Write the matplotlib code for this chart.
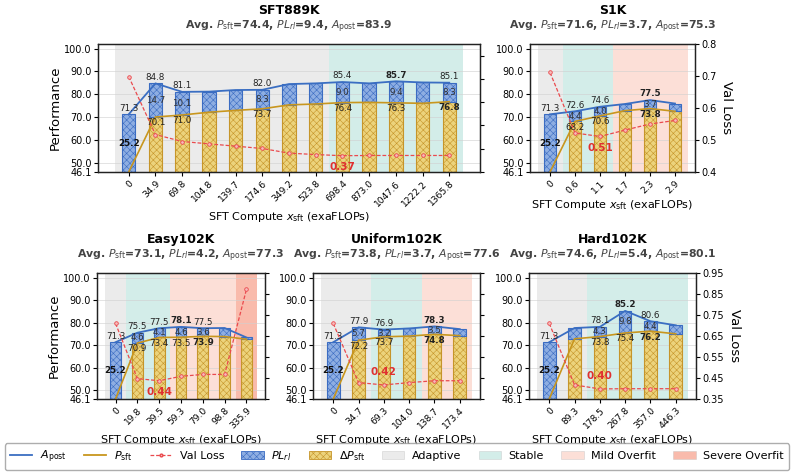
import numpy as np
import matplotlib
matplotlib.use('Agg')
import matplotlib.pyplot as plt
from matplotlib.patches import Patch
from matplotlib.lines import Line2D

plt.rcParams['font.family'] = ['DejaVu Sans']
plt.rcParams['hatch.linewidth'] = 0.4
plt.rcParams['mathtext.fontset'] = 'dejavusans'

BASE = 46.1  # base model score (bottom of the performance axis)

# ---- data ----
sft889k_x = ['0', '34.9', '69.8', '104.8', '139.7', '174.6', '349.2', '523.8',
             '698.4', '873.0', '1047.6', '1222.2', '1365.8']
sft889k_apost = [71.3, 84.8, 81.1, 81.2, 81.9, 82.0, 84.5, 84.8, 85.4, 84.8, 85.7, 85.2, 85.1]
sft889k_psft = [BASE, 70.1, 71.0, 72.2, 73.0, 73.7, 75.4, 75.8, 76.4, 76.5, 76.3, 76.1, 76.8]
sft889k_loss = [0.710, 0.461, 0.431, 0.421, 0.411, 0.401, 0.381, 0.375, 0.370, 0.371, 0.371, 0.371, 0.371]
sft889k_phase = ['Adaptive'] * 8 + ['Stable'] * 5
sft889k_show = [0, 1, 2, 5, 8, 10, 12]

s1k_x = ['0', '0.6', '1.1', '1.7', '2.3', '2.9']
s1k_apost = [71.3, 72.6, 74.6, 75.8, 77.5, 76.0]
s1k_psft = [BASE, 68.2, 70.6, 72.9, 73.8, 72.6]
s1k_loss = [0.711, 0.522, 0.511, 0.531, 0.550, 0.561]
s1k_phase = ['Adaptive', 'Stable', 'Stable', 'Mild Overfit', 'Mild Overfit', 'Mild Overfit']
s1k_show = [0, 1, 2, 4]

easy_x = ['0', '19.8', '39.5', '59.3', '79.0', '98.8', '335.9']
easy_apost = [71.3, 75.5, 77.5, 78.1, 77.5, 77.6, 73.4]
easy_psft = [BASE, 70.9, 73.4, 73.5, 73.9, 73.8, 72.6]
easy_loss = [0.710, 0.447, 0.437, 0.458, 0.467, 0.467, 0.872]
easy_phase = ['Adaptive', 'Stable', 'Stable', 'Mild Overfit', 'Mild Overfit', 'Mild Overfit', 'Severe Overfit']
easy_show = [0, 1, 2, 3, 4]

uniform_x = ['0', '34.7', '69.3', '104.0', '138.7', '173.4']
uniform_apost = [71.3, 77.9, 76.9, 77.4, 78.3, 77.1]
uniform_psft = [BASE, 72.2, 73.7, 74.0, 74.8, 74.2]
uniform_loss = [0.710, 0.428, 0.417, 0.428, 0.437, 0.437]
uniform_phase = ['Adaptive', 'Adaptive', 'Stable', 'Stable', 'Mild Overfit', 'Mild Overfit']
uniform_show = [0, 1, 2, 4]

hard_x = ['0', '89.3', '178.5', '267.8', '357.0', '446.3']
hard_apost = [71.3, 77.6, 78.1, 85.2, 80.6, 78.8]
hard_psft = [BASE, 72.8, 73.8, 75.4, 76.2, 75.0]
hard_loss = [0.710, 0.417, 0.398, 0.399, 0.399, 0.399]
hard_phase = ['Adaptive', 'Adaptive', 'Stable', 'Stable', 'Stable', 'Stable']
hard_show = [0, 2, 3, 4]

# ---- styles ----
phase_col = {'Adaptive': '#d9d9d9', 'Stable': '#a8ddd4',
             'Mild Overfit': '#fbc1b1', 'Severe Overfit': '#f5795a'}
BLUE_F, BLUE_E = '#8eaee2', '#3b6cc2'
GOLD_F, GOLD_E = '#ecd37c', '#c6952a'
L_BLUE, L_GOLD, L_RED = '#3a6ec2', '#c8961e', '#ea4a4e'

fig = plt.figure(figsize=(7.94, 4.75), dpi=100)


def px_axes(l, t, r, b):
    return fig.add_axes([l / 794, 1 - b / 475, (r - l) / 794, (b - t) / 475])


def draw(ax, name, sub, xt, apost, psft, loss, phase, show, lim, lticks,
         left_lab, right_lab, loss_lab):
    n = len(xt)
    idx = np.arange(n)
    apost = np.array(apost)
    psft = np.array(psft)

    # background phases
    start = 0
    for i in range(1, n + 1):
        if i == n or phase[i] != phase[start]:
            ax.axvspan(start - 0.5, i - 0.5, color=phase_col[phase[start]],
                       alpha=0.5, lw=0, zorder=0)
            start = i

    ax.bar(0, apost[0] - BASE, bottom=BASE, width=0.5, facecolor=BLUE_F,
           edgecolor=BLUE_E, hatch='xxxxx', lw=0.8, zorder=2)
    ax.bar(idx[1:], psft[1:] - BASE, bottom=BASE, width=0.5, facecolor=GOLD_F,
           edgecolor=GOLD_E, hatch='xxxxx', lw=0.8, zorder=2)
    ax.bar(idx[1:], apost[1:] - psft[1:], bottom=psft[1:], width=0.5,
           facecolor=BLUE_F, edgecolor=BLUE_E, hatch='xxxxx', lw=0.8, zorder=2)
    ax.plot(idx, apost, color=L_BLUE, lw=1.3, zorder=3)
    ax.plot(idx, psft, color=L_GOLD, lw=1.2, zorder=3)

    best_a = np.argmax(apost[1:]) + 1
    best_p = np.argmax(psft[1:]) + 1
    fs = 6.3
    for i in show:
        wa = 'bold' if i == best_a else 'normal'
        ax.text(i, apost[i] + 0.7, f'{apost[i]:.1f}', ha='center', va='bottom',
                fontsize=fs, fontweight=wa, color='#222222', zorder=5)
        if i == 0:
            ax.text(i, (apost[i] + BASE) / 2, f'{apost[i] - BASE:.1f}', ha='center',
                    va='center', fontsize=fs, fontweight='bold', color='#111111', zorder=5)
        else:
            ax.text(i, (apost[i] + psft[i]) / 2, f'{apost[i] - psft[i]:.1f}', ha='center',
                    va='center', fontsize=fs, color='#333333', zorder=5)
            wp = 'bold' if i == best_p else 'normal'
            ax.text(i, psft[i] - 0.6, f'{psft[i]:.1f}', ha='center', va='top',
                    fontsize=fs, fontweight=wp, color='#222222', zorder=5)

    ax.set_ylim(BASE, 102)
    ax.set_yticks([BASE, 50, 60, 70, 80, 90, 100])
    ax.set_yticklabels([f'{v:.1f}' for v in [BASE, 50, 60, 70, 80, 90, 100]], fontsize=7)
    ax.set_xlim(-0.5 - 0.05 * n, n - 0.5 + 0.05 * n)
    ax.set_xticks(idx)
    ax.set_xticklabels(xt, rotation=45, ha='right', rotation_mode='anchor', fontsize=6.6)
    ax.tick_params(axis='x', pad=2, length=3)
    ax.tick_params(axis='y', pad=1.5, length=3)
    ax.grid(axis='y', color='#d0d0d0', lw=0.6, alpha=0.7)
    ax.set_axisbelow(True)
    ax.set_xlabel(r'SFT Compute $x_{\rm sft}$ (exaFLOPs)', fontsize=8, labelpad=1.5)
    if left_lab:
        ax.set_ylabel('Performance', fontsize=9.5, labelpad=2)
    ax.annotate(name, xy=(0.5, 1), xycoords='axes fraction', xytext=(0, 24),
                textcoords='offset points', ha='center', va='center',
                fontsize=9, fontweight='bold')
    ax.annotate(sub, xy=(0.5, 1), xycoords='axes fraction', xytext=(0, 12.5),
                textcoords='offset points', ha='center', va='center',
                fontsize=7.8, fontweight='bold', color='#444444')

    ax2 = ax.twinx()
    ax2.plot(idx, loss, ls='--', color=L_RED, lw=0.9, marker='o', ms=2.6,
             mfc='#f7b9b9', mec=L_RED, mew=0.6, dashes=(3, 1.5))
    ax2.set_ylim(lim)
    ax2.set_yticks(lticks)
    ax2.tick_params(axis='y', pad=1.5, length=3, labelsize=7)
    if right_lab:
        ax2.set_yticklabels([f'{v:.2f}'.rstrip('0') if len(f'{v:.2f}'.rstrip('0')) > 2 else f'{v:.1f}'
                             for v in lticks])
        ax2.set_ylabel('Val Loss', fontsize=9.5, rotation=270, labelpad=12)
    else:
        ax2.set_yticklabels([])
    k = int(np.argmin(loss))
    frac = (loss[k] - lim[0]) / (lim[1] - lim[0])
    dy = 9 if frac < 0.12 else -8
    ax2.annotate(loss_lab, xy=(k, loss[k]), xytext=(0, dy), textcoords='offset points',
                 ha='center', va='center', fontsize=7.5, fontweight='bold', color='#e03030')
    for a in (ax, ax2):
        for s in a.spines.values():
            s.set_linewidth(0.9)
            s.set_color('#222222')


ax_a = px_axes(98, 44, 480, 172)
ax_b = px_axes(530, 44, 695, 172)
ax_c = px_axes(97, 273, 265, 399)
ax_d = px_axes(313, 273, 480, 399)
ax_e = px_axes(529, 273, 696, 399)

top_lim, top_ticks = (0.3, 0.85), [0.3, 0.4, 0.5, 0.6, 0.7, 0.8]
bot_lim, bot_ticks = (0.35, 0.95), [0.35, 0.45, 0.55, 0.65, 0.75, 0.85, 0.95]

draw(ax_a, 'SFT889K', r'Avg. $P_{\rm sft}$=74.4, $PL_{rl}$=9.4, $A_{\rm post}$=83.9',
     sft889k_x, sft889k_apost, sft889k_psft, sft889k_loss, sft889k_phase, sft889k_show,
     top_lim, top_ticks, True, False, '0.37')
draw(ax_b, 'S1K', r'Avg. $P_{\rm sft}$=71.6, $PL_{rl}$=3.7, $A_{\rm post}$=75.3',
     s1k_x, s1k_apost, s1k_psft, s1k_loss, s1k_phase, s1k_show,
     (0.4, 0.8), [0.4, 0.5, 0.6, 0.7, 0.8], False, True, '0.51')
draw(ax_c, 'Easy102K', r'Avg. $P_{\rm sft}$=73.1, $PL_{rl}$=4.2, $A_{\rm post}$=77.3',
     easy_x, easy_apost, easy_psft, easy_loss, easy_phase, easy_show,
     bot_lim, bot_ticks, True, False, '0.44')
draw(ax_d, 'Uniform102K', r'Avg. $P_{\rm sft}$=73.8, $PL_{rl}$=3.7, $A_{\rm post}$=77.6',
     uniform_x, uniform_apost, uniform_psft, uniform_loss, uniform_phase, uniform_show,
     bot_lim, bot_ticks, False, False, '0.42')
draw(ax_e, 'Hard102K', r'Avg. $P_{\rm sft}$=74.6, $PL_{rl}$=5.4, $A_{\rm post}$=80.1',
     hard_x, hard_apost, hard_psft, hard_loss, hard_phase, hard_show,
     bot_lim, bot_ticks, False, True, '0.40')

handles = [
    Line2D([], [], color=L_BLUE, lw=1.3, label=r'$A_{\rm post}$'),
    Line2D([], [], color=L_GOLD, lw=1.3, label=r'$P_{\rm sft}$'),
    Line2D([], [], color=L_RED, lw=0.9, ls='--', marker='o', ms=2, mfc='#f7b9b9',
           dashes=(3, 1.5), label='Val Loss'),
    Patch(facecolor=BLUE_F, edgecolor=BLUE_E, hatch='xxxxx', lw=0.6, label=r'$PL_{rl}$'),
    Patch(facecolor=GOLD_F, edgecolor=GOLD_E, hatch='xxxxx', lw=0.6, label=r'$\Delta P_{\rm sft}$'),
]
for ph in ['Adaptive', 'Stable', 'Mild Overfit', 'Severe Overfit']:
    handles.append(Patch(facecolor=phase_col[ph], alpha=0.5, edgecolor='#bbbbbb', lw=0.5, label=ph))

fig.legend(handles=handles, loc='lower center', bbox_to_anchor=(0.5, 0.004), ncol=9,
           fontsize=8, frameon=True, fancybox=True, edgecolor='#999999',
           handlelength=2.0, columnspacing=1.55, handletextpad=0.7, borderpad=0.45,
           borderaxespad=0.3)

fig.savefig('out.png', dpi=100)
